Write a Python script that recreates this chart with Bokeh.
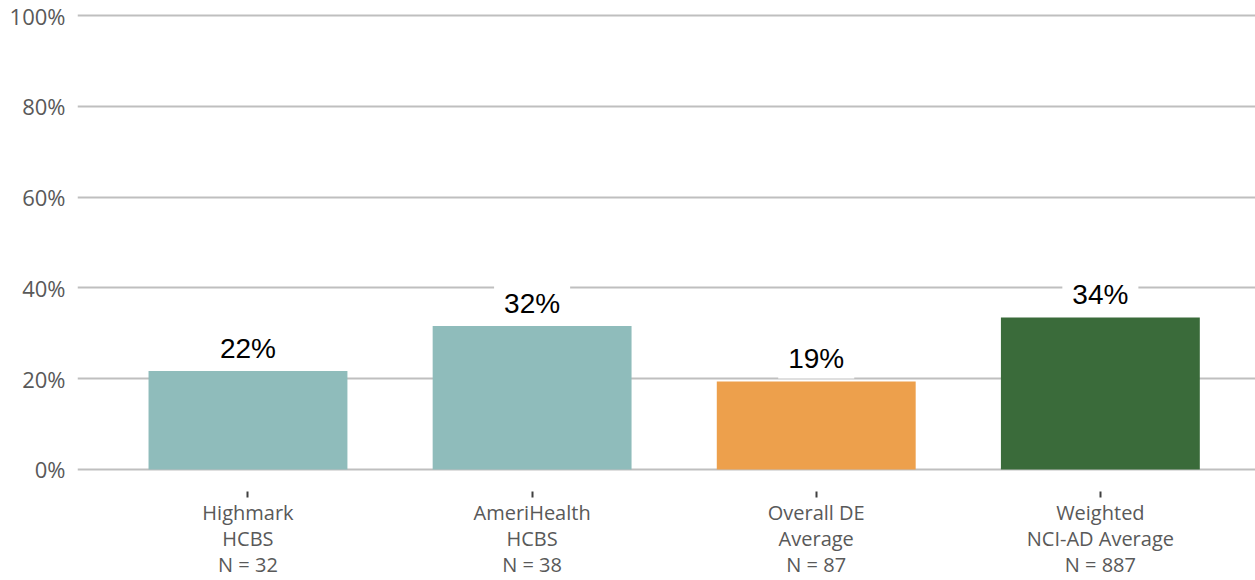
from bokeh.plotting import figure
from bokeh.models import ColumnDataSource, FixedTicker, Label, Range1d
from bokeh.embed import file_html
from bokeh.resources import INLINE

categories = ["Highmark\nHCBS\nN = 32", "AmeriHealth\nHCBS\nN = 38",
              "Overall DE\nAverage\nN = 87", "Weighted\nNCI-AD Average\nN = 887"]
values = [21.7, 31.6, 19.4, 33.5]
value_labels = ["22%", "32%", "19%", "34%"]
colors = ["#8FBCBB", "#8FBCBB", "#EDA04C", "#3A6B3A"]
y_ticks = [0, 20, 40, 60, 80, 100]
y_tick_labels = ["0%", "20%", "40%", "60%", "80%", "100%"]

xs = list(range(len(categories)))
src = ColumnDataSource(dict(x=xs, top=values, color=colors))

p = figure(width=1255, height=580, output_backend="svg", toolbar_location=None,
           x_range=Range1d(-0.600, 3.546), y_range=Range1d(-4.86, 101.55),
           min_border_left=77, min_border_right=0, min_border_top=8, min_border_bottom=87)
p.outline_line_color = None
p.background_fill_color = "white"

p.vbar(x="x", top="top", bottom=0, width=0.70, color="color", line_color=None, source=src)

# y axis
p.yaxis.ticker = FixedTicker(ticks=y_ticks)
p.yaxis.major_label_overrides = {t: l for t, l in zip(y_ticks, y_tick_labels)}
p.yaxis.axis_line_color = None
p.yaxis.major_tick_line_color = None
p.yaxis.major_tick_in = 0
p.yaxis.major_tick_out = 0
p.yaxis.minor_tick_line_color = None
p.yaxis.major_label_standoff = 12
p.yaxis.major_label_text_font = "Open Sans"
p.yaxis.major_label_text_font_size = "22px"
p.yaxis.major_label_text_color = "#595959"

p.ygrid.ticker = FixedTicker(ticks=y_ticks)
p.ygrid.grid_line_color = "#BFBFBF"
p.ygrid.grid_line_width = 2
p.xgrid.grid_line_color = None

# x axis
p.xaxis.ticker = FixedTicker(ticks=xs)
p.xaxis.major_label_overrides = {i: c for i, c in zip(xs, categories)}
p.xaxis.axis_line_color = None
p.xaxis.minor_tick_line_color = None
p.xaxis.major_tick_in = 0
p.xaxis.major_tick_out = 6
p.xaxis.major_tick_line_color = "#404040"
p.xaxis.major_tick_line_width = 2
p.xaxis.major_label_standoff = 1
p.xaxis.major_label_text_font = "Open Sans"
p.xaxis.major_label_text_font_size = "20px"
p.xaxis.major_label_text_color = "#595959"
p.xaxis.major_label_text_line_height = 0.97

for xi, v, t in zip(xs, values, value_labels):
    p.add_layout(Label(x=xi, y=v, text=t, text_align="center", text_baseline="bottom",
                       y_offset=3, text_font="Liberation Sans", text_font_size="28px",
                       text_color="black", background_fill_color="white",
                       padding=(10, 4)))

open("out.html", "w").write(file_html(p, INLINE))
